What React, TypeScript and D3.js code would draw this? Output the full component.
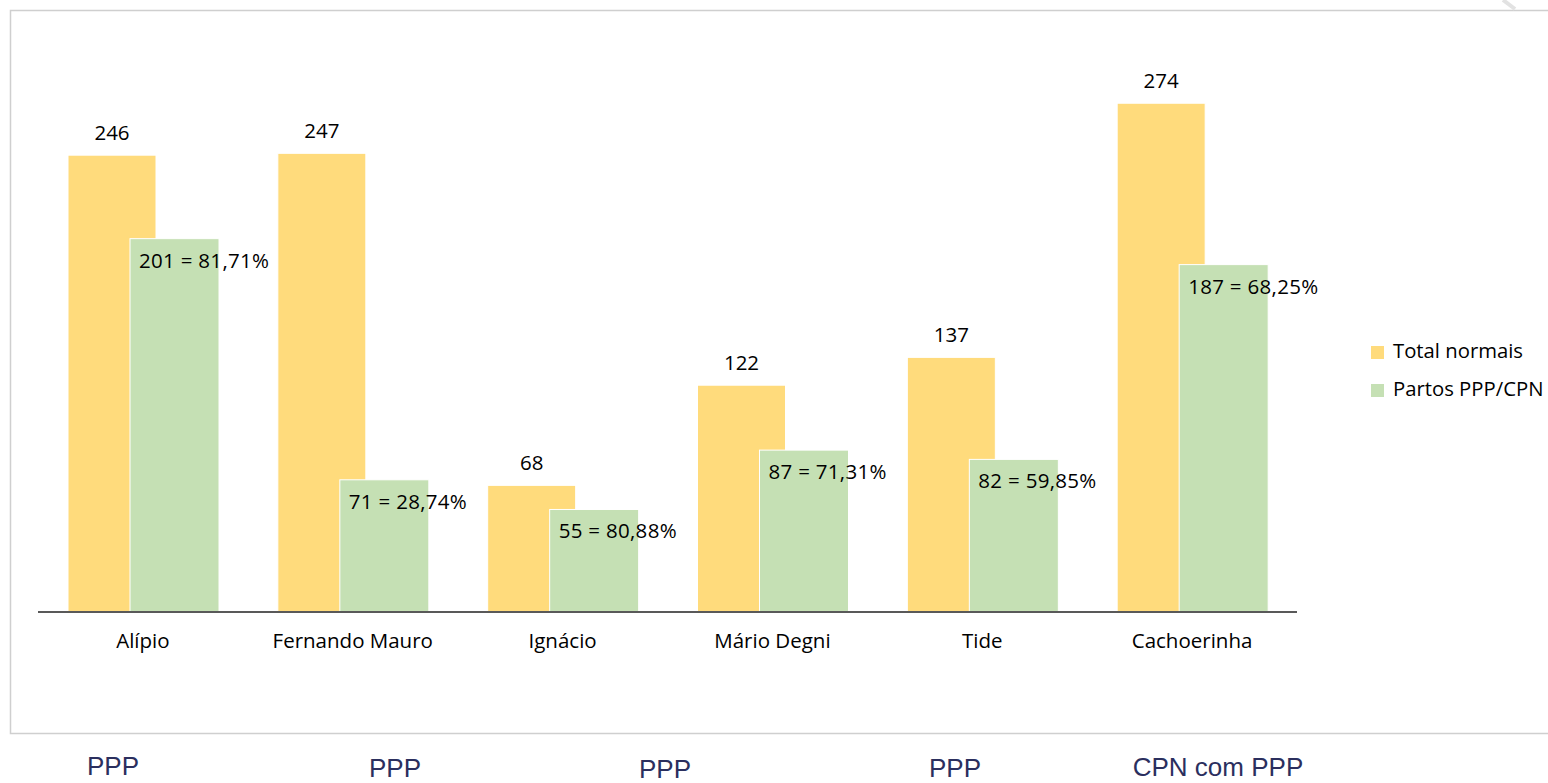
import React from "react";
import * as d3 from "d3";

const categories = ["Alípio", "Fernando Mauro", "Ignácio", "Mário Degni", "Tide", "Cachoerinha"];
const totalNormais = [246, 247, 68, 122, 137, 274];
const partosPPP = [201, 71, 55, 87, 82, 187];
const partosLabels = ["201 = 81,71%", "71 = 28,74%", "55 = 80,88%", "87 = 71,31%", "82 = 59,85%", "187 = 68,25%"];
const seriesNames = ["Total normais", "Partos PPP/CPN"];
const bottomNotes = ["PPP", "PPP", "PPP", "PPP", "CPN com PPP"];

const W = 1548;
const H = 783;
const YELLOW = "#FFDB7C";
const GREEN = "#C5E0B4";
const FONT = "'Open Sans', sans-serif";

// layout of the slide annotations under the chart frame
const noteLayout = [
  { x: 113, y: 775 },
  { x: 395, y: 777 },
  { x: 665, y: 778 },
  { x: 955, y: 777 },
  { x: 1218, y: 776 },
];

export default function App() {
  const x = d3.scaleBand<string>().domain(categories).range([38, 1297]).paddingInner(0).paddingOuter(0);
  const y = d3.scaleLinear().domain([0, 300]).range([611.5, 55]);
  const yellowOff = 30;
  const yellowW = 88;
  const greenOff = 92;
  const greenW = 89;

  return (
    <div style={{ position: "fixed", left: 0, top: 0, width: W, height: H, background: "#fff" }}>
      <svg width={W} height={H} style={{ display: "block" }}>
        <rect x={0} y={0} width={W} height={H} fill="#fff" />
        {/* chart frame */}
        <path d={`M${W + 10},10.5 H10.5 V733.5 H${W + 10}`} fill="none" stroke="#cfcfcf" strokeWidth={1.5} />
        <line x1={1503} y1={0} x2={1515} y2={9} stroke="#e2e2e2" strokeWidth={4} />

        {/* yellow bars */}
        {categories.map((c, i) => {
          const bx = (x(c) as number) + yellowOff;
          return (
            <rect key={"y" + c} x={bx} y={y(totalNormais[i])} width={yellowW}
              height={y(0) - y(totalNormais[i])} fill={YELLOW} stroke="#fff" strokeWidth={1} />
          );
        })}
        {/* green bars */}
        {categories.map((c, i) => {
          const bx = (x(c) as number) + greenOff;
          return (
            <rect key={"g" + c} x={bx} y={y(partosPPP[i])} width={greenW}
              height={y(0) - y(partosPPP[i])} fill={GREEN} stroke="#fff" strokeWidth={1} />
          );
        })}

        {/* axis line */}
        <line x1={38} x2={1297} y1={612} y2={612} stroke="#595959" strokeWidth={2.2} />

        {/* yellow labels */}
        {categories.map((c, i) => (
          <text key={"yl" + c} x={(x(c) as number) + yellowOff + yellowW / 2} y={y(totalNormais[i]) - 15}
            textAnchor="middle" fontFamily={FONT} fontSize={20.5} fill="#000">
            {totalNormais[i]}
          </text>
        ))}
        {/* green labels */}
        {categories.map((c, i) => (
          <text key={"gl" + c} x={(x(c) as number) + greenOff + 9} y={y(partosPPP[i]) + 29}
            textAnchor="start" fontFamily={FONT} fontSize={20.5} letterSpacing={0.3} fill="#000">
            {partosLabels[i]}
          </text>
        ))}

        {/* category labels */}
        {categories.map((c) => (
          <text key={"c" + c} x={(x(c) as number) + x.bandwidth() / 2} y={648}
            textAnchor="middle" fontFamily={FONT} fontSize={20.5} fill="#000">
            {c}
          </text>
        ))}

        {/* legend */}
        {seriesNames.map((s, i) => (
          <g key={s} transform={`translate(1371, ${346 + i * 38})`}>
            <rect x={0} y={0} width={13} height={13} fill={i === 0 ? YELLOW : GREEN} />
            <text x={22} y={12} fontFamily={FONT} fontSize={20.3} fill="#000">{s}</text>
          </g>
        ))}

        {/* annotations below chart */}
        {bottomNotes.map((t, i) => (
          <text key={"n" + i} x={noteLayout[i].x} y={noteLayout[i].y} textAnchor="middle"
            fontFamily="'Liberation Sans', Arial, sans-serif" fontSize={26} fill="#2B2F5E">
            {t}
          </text>
        ))}
      </svg>
    </div>
  );
}
